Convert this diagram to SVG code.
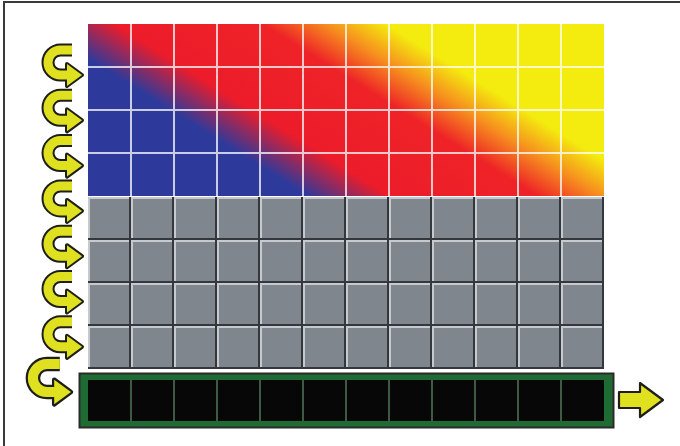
<svg xmlns="http://www.w3.org/2000/svg" xmlns:xlink="http://www.w3.org/1999/xlink" width="680" height="446" viewBox="0 0 680 446">
<style>
.frame{fill:none;stroke:#3a3a3a;stroke-width:2}
.gline{stroke:#fff;stroke-opacity:0.75;stroke-width:2}
.regsep{stroke:#3f5a44;stroke-width:2}
.aout{fill:none;stroke:#1e1e1a;stroke-width:13}
.ain{fill:none;stroke:#dfe01f;stroke-width:9}
.hout{fill:#1e1e1a;stroke:#1e1e1a;stroke-width:4;stroke-linejoin:round}
.hin{fill:#dfe01f}
</style>
<defs>
<linearGradient id="heat" gradientUnits="userSpaceOnUse" x1="88" y1="80" x2="200.4" y2="-99.8">
<stop offset="0" stop-color="#2d3a9b"/>
<stop offset="0.085" stop-color="#2d3a9b"/>
<stop offset="0.29" stop-color="#ec1c2a"/>
<stop offset="0.66" stop-color="#ee2327"/>
<stop offset="0.825" stop-color="#f6921e"/>
<stop offset="0.97" stop-color="#f4ec0e"/>
<stop offset="1" stop-color="#f4ec0e"/>
</linearGradient>
<pattern id="graycell" patternUnits="userSpaceOnUse" x="88" y="197" width="43" height="43">
<rect width="43" height="43" fill="#34373c"/>
<rect x="0" y="0" width="41" height="41" fill="#80868e"/>
<rect x="0" y="0" width="41" height="2" fill="#c6cacf"/>
<rect x="0" y="0" width="2" height="41" fill="#c6cacf"/>
</pattern>
<g id="uarrow">
<path class="aout" d="M-10,-25 H-21.5 A12.5,12.5 0 0 0 -21.5,0 H-14"/>
<polygon class="hout" points="-15,-11 0,0 -15,11"/>
<path class="ain" d="M-10,-25 H-21.5 A12.5,12.5 0 0 0 -21.5,0 H-14"/>
<polygon class="hin" points="-15,-11 0,0 -15,11"/>
</g>
</defs>
<rect width="680" height="446" fill="#fff"/>
<path class="frame" d="M4,446 V2 H680"/>
<g id="color-grid">
<rect x="88" y="24" width="516" height="172" fill="url(#heat)"/>
<path class="gline" d="M131,24V196M174,24V196M217,24V196M260,24V196M303,24V196M346,24V196M389,24V196M432,24V196M475,24V196M518,24V196M561,24V196M88,67H604M88,110H604M88,153H604"/>
</g>
<g id="gray-grid">
<rect x="88" y="197" width="516" height="172" fill="url(#graycell)"/>
</g>
<g id="output-register">
<rect x="79.5" y="373.5" width="534" height="54" fill="#1f6b34" stroke="#2a2a2a" stroke-width="2"/>
<rect x="88" y="380" width="516" height="41" fill="#070707"/>
<path class="regsep" d="M131,380V421M174,380V421M217,380V421M260,380V421M303,380V421M346,380V421M389,380V421M432,380V421M475,380V421M518,380V421M561,380V421"/>
</g>
<g id="connectors">
<use xlink:href="#uarrow" transform="translate(82,75)"/>
<use xlink:href="#uarrow" transform="translate(82,120.3)"/>
<use xlink:href="#uarrow" transform="translate(82,165.6)"/>
<use xlink:href="#uarrow" transform="translate(82,210.9)"/>
<use xlink:href="#uarrow" transform="translate(82,256.2)"/>
<use xlink:href="#uarrow" transform="translate(82,301.5)"/>
<use xlink:href="#uarrow" transform="translate(82,346.8)"/>
<use xlink:href="#uarrow" transform="translate(71,392) scale(1.12)"/>
<polygon points="619,392 640,392 640,383 663,400 640,417 640,408 619,408" fill="#dfe01f" stroke="#1e1e1a" stroke-width="2.2" stroke-linejoin="round"/>
</g>
</svg>
